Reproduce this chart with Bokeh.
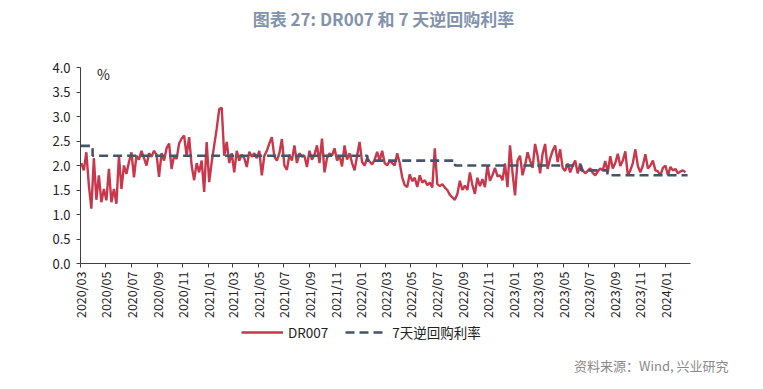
import math
import pandas as pd
from bokeh.plotting import figure
from bokeh.models import (Range1d, FixedTicker, DatetimeTickFormatter, Label, Legend,
                          LegendItem, NumeralTickFormatter)
from bokeh.embed import file_html
from bokeh.resources import INLINE

# ---------------- data ----------------
title_text = "图表 27: DR007 和 7 天逆回购利率"
source_text = "资料来源：Wind, 兴业研究"
unit_text = "%"
series_names = ["DR007", "7天逆回购利率"]

dr007_start = "2020-03-03"
dr007_end = "2024-02-18"
dr007 = [
    2.05, 1.90, 2.27, 1.60, 1.12, 2.15, 1.30, 1.80, 1.25, 1.52,
    1.29, 1.93, 1.25, 1.52, 1.22, 2.20, 1.52, 2.00, 1.83, 2.07,
    2.27, 1.76, 2.20, 2.12, 2.30, 2.15, 2.00, 2.25, 2.18, 2.30,
    2.22, 1.77, 2.25, 2.10, 2.35, 2.45, 1.93, 2.20, 2.13, 2.45,
    2.55, 2.61, 2.20, 2.58, 2.00, 1.70, 2.05, 1.86, 2.10, 1.46,
    2.48, 1.66, 2.07, 2.41, 2.75, 3.15, 3.18, 2.20, 2.48, 2.05,
    2.25, 1.86, 2.30, 2.10, 2.22, 2.15, 1.97, 2.28, 2.18, 2.25,
    2.15, 2.30, 1.80, 2.20, 2.30, 2.45, 2.58, 2.18, 2.10, 2.25,
    2.54, 2.00, 1.91, 2.22, 2.10, 2.41, 2.05, 2.25, 2.18, 2.20,
    1.97, 2.30, 2.12, 2.22, 2.41, 2.05, 2.55, 1.86, 2.15, 2.25,
    2.20, 2.35, 2.10, 2.20, 1.98, 2.41, 2.12, 2.25, 2.05, 1.90,
    2.20, 2.48, 2.07, 2.00, 2.15, 2.08, 2.02, 2.12, 2.28, 2.10,
    2.30, 2.05, 2.00, 2.10, 2.05, 2.00, 2.25, 2.05, 1.76, 1.60,
    1.56, 1.82, 1.68, 1.75, 1.56, 1.80, 1.65, 1.70, 1.60, 1.65,
    1.55, 2.35, 1.62, 1.58, 1.62, 1.55, 1.50, 1.40, 1.35, 1.30,
    1.42, 1.69, 1.50, 1.59, 1.50, 1.86, 1.60, 1.42, 1.75, 1.58,
    1.72, 1.56, 2.00, 1.69, 1.80, 1.95, 1.78, 1.80, 1.70, 2.04,
    1.56, 2.41, 1.85, 1.39, 2.10, 2.20, 1.80, 2.00, 2.27, 2.10,
    1.95, 2.44, 2.20, 1.84, 2.24, 2.44, 1.93, 2.14, 2.30, 2.41,
    2.07, 2.33, 1.95, 1.89, 2.04, 1.86, 2.00, 2.10, 1.84, 2.04,
    1.90, 1.84, 1.89, 1.94, 1.85, 1.80, 1.88, 1.94, 1.90, 2.09,
    1.86, 2.19, 1.94, 2.05, 2.24, 1.99, 2.10, 2.29, 1.80, 1.90,
    2.05, 2.33, 1.99, 1.86, 2.00, 2.23, 1.94, 2.00, 2.10, 1.90,
    1.88, 1.80, 1.95, 2.00, 1.80, 1.97, 1.90, 1.93, 1.84, 1.88,
    1.90, 1.86,
]

repo_dates = ["2020-03-02", "2020-03-30", "2022-01-17", "2022-08-15",
              "2023-06-13", "2023-08-15", "2024-02-23"]
repo_rates = [2.40, 2.20, 2.10, 2.00, 1.90, 1.80, 1.80]

tick_labels = ["2020/03", "2020/05", "2020/07", "2020/09", "2020/11",
               "2021/01", "2021/03", "2021/05", "2021/07", "2021/09", "2021/11",
               "2022/01", "2022/03", "2022/05", "2022/07", "2022/09", "2022/11",
               "2023/01", "2023/03", "2023/05", "2023/07", "2023/09", "2023/11",
               "2024/01"]
y_ticks = [0.0, 0.5, 1.0, 1.5, 2.0, 2.5, 3.0, 3.5, 4.0]
x_start, x_end = "2020-03-01", "2024-03-01"
y_start, y_end = 0.0, 4.0

# ---------------- layout (pixels) ----------------
W, H = 762, 388
PLOT_L, PLOT_R, PLOT_T, PLOT_B = 80, 690, 67, 263

FONT = "Noto Sans CJK SC"
RED = "#C8374B"
NAVY = "#44546A"

# ---------------- build ----------------
dr_dates = pd.date_range(dr007_start, dr007_end, periods=len(dr007))
rp_dates = pd.to_datetime(repo_dates)
tick_ms = [pd.Timestamp(t.replace("/", "-") + "-01").value / 1e6 for t in tick_labels]
t0 = pd.Timestamp(x_start).value / 1e6
t1 = pd.Timestamp(x_end).value / 1e6

# frame covers the whole canvas; ranges are extended so that the plotting
# area lands at PLOT_L..PLOT_R / PLOT_T..PLOT_B
mpp = (t1 - t0) / (PLOT_R - PLOT_L)
upp = (y_end - y_start) / (PLOT_B - PLOT_T)
xr = Range1d(t0 - PLOT_L * mpp, t1 + (W - PLOT_R) * mpp)
yr = Range1d(y_start - (H - PLOT_B) * upp, y_end + PLOT_T * upp)

p = figure(width=W, height=H, output_backend="svg", toolbar_location=None,
           x_axis_type="datetime", x_range=xr, y_range=yr, title_location=None,
           min_border=0, min_border_left=0, min_border_right=0,
           min_border_top=0, min_border_bottom=0)
p.outline_line_color = None
p.background_fill_color = "white"
p.border_fill_color = "white"
p.xgrid.visible = False
p.ygrid.visible = False

r1 = p.line(dr_dates, dr007, line_color=RED, line_width=2.4)
r2 = p.step(rp_dates, repo_rates, mode="after", line_color=NAVY, line_width=2.6,
            line_dash="9 5")

# axes pinned inside the frame
p.xaxis.fixed_location = y_start
p.xaxis.bounds = (t0, t1)
p.yaxis.fixed_location = t0
p.yaxis.bounds = (y_start, y_end)
p.xaxis.ticker = FixedTicker(ticks=tick_ms)
p.xaxis.formatter = DatetimeTickFormatter(days="%Y/%m", months="%Y/%m", years="%Y/%m")
p.xaxis.major_label_orientation = math.pi / 2
p.yaxis.ticker = FixedTicker(ticks=y_ticks)
p.yaxis.formatter = NumeralTickFormatter(format="0.0")
for ax in (p.xaxis, p.yaxis):
    ax.axis_line_color = "#404040"
    ax.major_tick_line_color = "#404040"
    ax.minor_tick_line_color = None
    ax.major_tick_in = 0
    ax.major_tick_out = 4
    ax.major_label_text_font = FONT
    ax.major_label_text_color = "#222222"
    ax.major_label_text_font_size = "12.5px"
p.yaxis.major_label_text_font_size = "13px"
p.xaxis.major_label_standoff = 4
p.yaxis.major_label_standoff = 6

# texts (screen units from the bottom-left of the canvas)
p.add_layout(Label(x=383, y=H - 18, x_units="screen", y_units="screen", text=title_text,
                   text_align="center", text_baseline="middle", text_font=FONT,
                   text_font_style="bold", text_font_size="17px", text_color="#8293AB"))
p.add_layout(Label(x=103, y=H - 73, x_units="screen", y_units="screen", text=unit_text,
                   text_align="center", text_baseline="middle", text_font=FONT,
                   text_font_size="14px", text_color="#222222"))
p.add_layout(Label(x=728, y=H - 365, x_units="screen", y_units="screen", text=source_text,
                   text_align="right", text_baseline="middle", text_font=FONT,
                   text_font_size="13px", text_color="#8A8A8A"))

legend = Legend(items=[LegendItem(label=series_names[0], renderers=[r1]),
                       LegendItem(label=series_names[1], renderers=[r2])],
                location=(241, H - 342), orientation="horizontal",
                border_line_color=None, background_fill_alpha=0,
                glyph_width=42, glyph_height=16, label_standoff=5, spacing=17,
                padding=2, margin=0, label_text_font=FONT,
                label_text_font_size="13.5px", label_text_color="#222222",
                label_height=16)
p.add_layout(legend)

open("out.html", "w").write(file_html(p, INLINE))
